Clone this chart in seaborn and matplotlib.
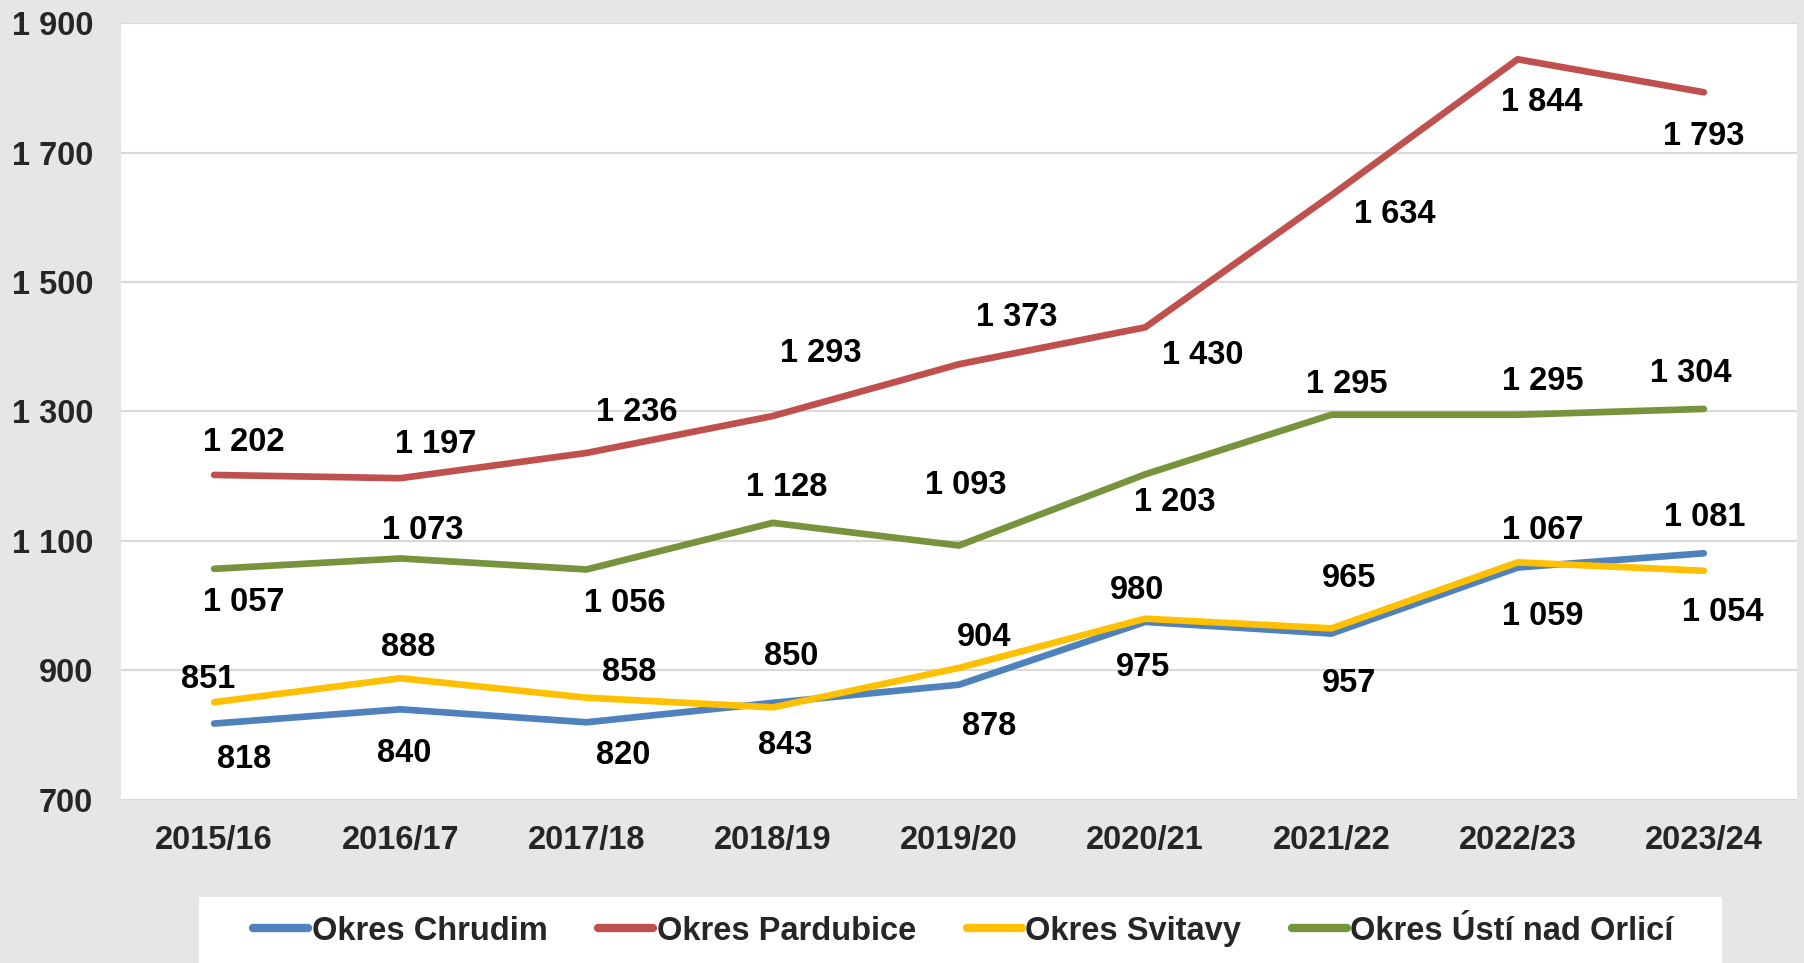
import pandas as pd
import seaborn as sns
import matplotlib.pyplot as plt
from matplotlib.patches import Rectangle

# School years
years = ['2015/16', '2016/17', '2017/18', '2018/19', '2019/20',
         '2020/21', '2021/22', '2022/23', '2023/24']

chrudim = [818, 840, 820, 850, 878, 975, 957, 1059, 1081]
pardubice = [1202, 1197, 1236, 1293, 1373, 1430, 1634, 1844, 1793]
svitavy = [851, 888, 858, 843, 904, 980, 965, 1067, 1054]
usti = [1057, 1073, 1056, 1128, 1093, 1203, 1295, 1295, 1304]

series_names = ['Okres Chrudim', 'Okres Pardubice', 'Okres Svitavy', 'Okres Ústí nad Orlicí']
colors = ['#4F81BD', '#C0504D', '#FFC000', '#77933C']

# Manual data-label offsets (dx, dy) in reference pixels, dy positive = up
label_offsets = {
    'Okres Chrudim': [(26, -29), (3, -36), (32, -26), (16, 43), (26, -34),
                      (-2, -37), (15, -41), (22, -40), (1, 34)],
    'Okres Pardubice': [(26, 31), (31, 32), (44, 38), (42, 57), (50, 43),
                        (50, -22), (55, -14), (21, -35), (0, -36)],
    'Okres Svitavy': [(-5, 22), (7, 29), (37, 24), (11, -31), (22, 29),
                      (-7, 27), (15, 46), (22, 30), (16, -34)],
    'Okres Ústí nad Orlicí': [(26, -27), (19, 27), (33, -27), (12, 33), (6, 55),
                              (26, -22), (13, 29), (22, 31), (-11, 33)],
}

def fmt(v):
    return f"{v:,}".replace(',', ' ')

def main():
    values = [chrudim, pardubice, svitavy, usti]
    rows = []
    for name, vals in zip(series_names, values):
        for i, (yr, v) in enumerate(zip(years, vals)):
            rows.append({'idx': i, 'year': yr, 'value': v, 'series': name})
    df = pd.DataFrame(rows)

    sns.set_style('white')
    plt.rcParams['font.family'] = ['Liberation Sans', 'DejaVu Sans']
    plt.rcParams['font.weight'] = 'bold'

    fig = plt.figure(figsize=(18.04, 9.63), dpi=100, facecolor='#E6E6E6')
    ax = fig.add_axes([0.0671, 0.1693, 0.929, 0.8068])
    ax.set_facecolor('white')

    sns.lineplot(data=df, x='idx', y='value', hue='series', hue_order=series_names,
                 palette=colors, linewidth=4.8, ax=ax, legend=False,
                 solid_capstyle='round')

    ax.set_xlim(-0.5, len(years) - 0.5)
    ax.set_ylim(700, 1900)
    ax.set_yticks(range(700, 1901, 200))
    ax.set_yticklabels([fmt(v) for v in range(700, 1901, 200)])
    ax.set_xticks(range(len(years)))
    ax.set_xticklabels(years)
    ax.tick_params(axis='both', length=0, labelsize=23.5)
    ax.tick_params(axis='y', pad=20)
    ax.tick_params(axis='x', pad=18)
    for lbl in ax.get_xticklabels() + ax.get_yticklabels():
        lbl.set_fontweight('bold')
    ax.set_xlabel('')
    ax.set_ylabel('')
    ax.grid(axis='y', color='#D9D9D9', linewidth=1.5)
    ax.grid(axis='x', visible=False)
    for s in ax.spines.values():
        s.set_visible(False)
    ax.set_axisbelow(True)

    k = 0.828
    for name, vals in zip(series_names, values):
        for i, v in enumerate(vals):
            dx, dy = label_offsets[name][i]
            ax.annotate(fmt(v), (i, v), xytext=(dx * k, (dy - 2.5) * k),
                        textcoords='offset points', ha='center', va='center',
                        fontsize=23.5, fontweight='bold', color='black')

    # White legend box
    fig.patches.append(Rectangle((0.1103, -0.01), 0.8443, 0.0785,
                                 transform=fig.transFigure, facecolor='white',
                                 edgecolor='none', zorder=0))
    handles = [plt.Line2D([], [], color=c, linewidth=6, solid_capstyle='round')
               for c in colors]
    fig.legend(handles, series_names, loc='center', bbox_to_anchor=(0.534, 0.0330),
               ncol=4, frameon=False, handlelength=1.7,
               handletextpad=0.1, columnspacing=1.55,
               prop={'weight': 'bold', 'size': 23.5})

    fig.savefig('out.png', dpi=100, facecolor=fig.get_facecolor())

if __name__ == "__main__":
    main()
